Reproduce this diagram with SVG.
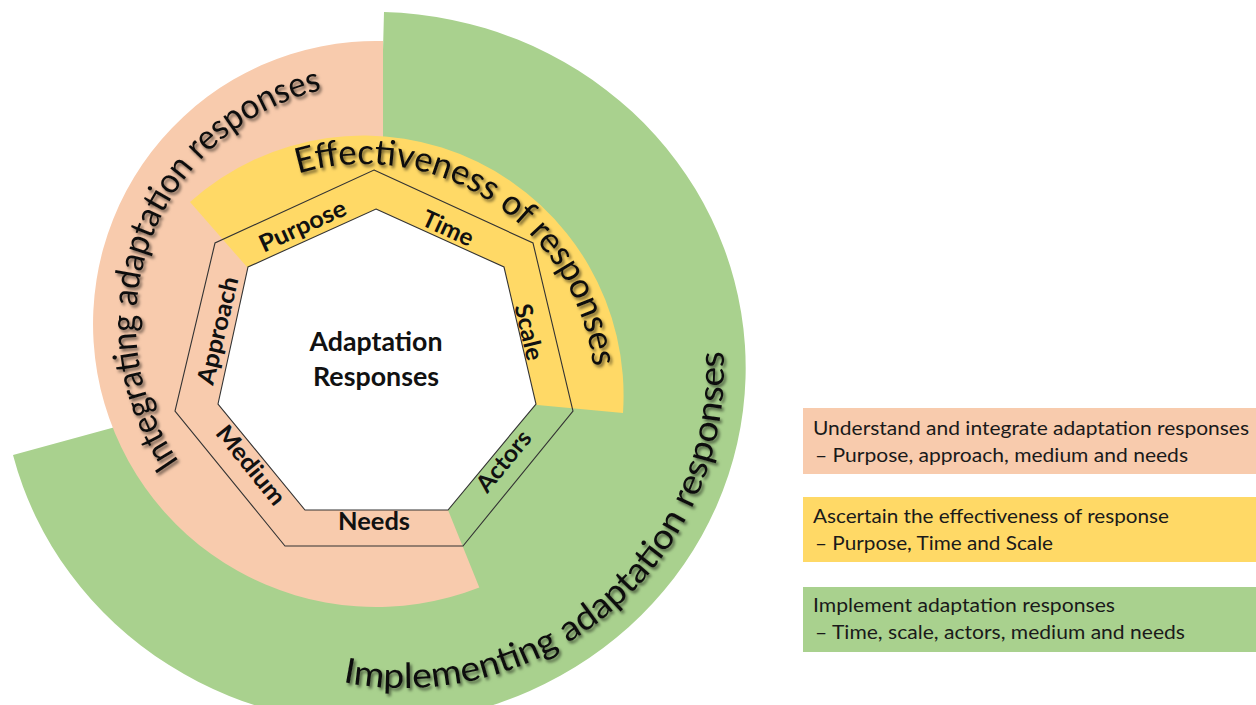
<svg xmlns="http://www.w3.org/2000/svg" width="1256" height="705" viewBox="0 0 1256 705">
<style>
.curved{font-family:Lato,"Open Sans","Liberation Sans",sans-serif;font-size:35px;fill:#111;filter:url(#sh)}
.seg{font-family:Lato,"Open Sans","Liberation Sans",sans-serif;font-weight:700;font-size:24px;fill:#111;text-anchor:middle}
.ctr{font-family:Lato,"Open Sans","Liberation Sans",sans-serif;font-weight:700;font-size:26px;fill:#111;text-anchor:middle}
.leg{font-family:Lato,"Open Sans","Liberation Sans",sans-serif;font-size:19.5px;fill:#1a1a1a}
.hept{stroke:#333;stroke-width:1.1;stroke-linejoin:miter}
</style>
<defs>
<filter id="sh" x="-10%" y="-10%" width="120%" height="130%">
<feDropShadow dx="2" dy="2.5" stdDeviation="1.8" flood-color="#000" flood-opacity="0.55"/>
</filter>
<path id="p1" d="M 192.1,478.3 A 240 240 0 0 1 355.1,84.9"/>
<path id="p2" d="M 266.4,185.6 A 231 231 0 0 1 595,395"/>
<path id="p3" d="M 294.6,668.7 A 320 320 0 0 0 719.1,312.4"/>
</defs>

<g id="ring-implementing">
<path d="M 384,12 A 372 356 0 1 1 13,455 L 375,356 Z" fill="#A9D18E"/>
</g>
<g id="ring-integrating">
<path d="M 383,41.1 A 283 283 0 1 0 479.3,587.5 L 448,510 L 410,420 L 383,300 Z" fill="#F8CBAD"/>
</g>
<g id="ring-effectiveness">
<path d="M 190,202 A 260 260 0 0 1 623,413 L 353,388 Z" fill="#FFD966"/>
</g>

<g id="heptagon">
<polygon class="hept" points="374,170 533,243 573,411 463,546 285,546 175,411 215,243" fill="none"/>
<polygon class="hept" points="376,209 504,267 536,404 448,510 305,510 218,404 248,267" fill="#fff"/>
</g>

<g id="curved-labels">
<text class="curved"><textPath href="#p1" startOffset="21" textLength="469" lengthAdjust="spacingAndGlyphs">Integrating adaptation responses</textPath></text>
<text class="curved"><textPath href="#p2" startOffset="34" textLength="401" lengthAdjust="spacingAndGlyphs">Effectiveness of responses</textPath></text>
<text class="curved"><textPath href="#p3" startOffset="50" textLength="581" lengthAdjust="spacingAndGlyphs">Implementing adaptation responses</textPath></text>
</g>

<g id="segments">
<g id="seg-purpose" transform="translate(303,227) rotate(-24.6)"><text class="seg" x="0" y="7" textLength="93" lengthAdjust="spacingAndGlyphs">Purpose</text></g>
<g id="seg-time" transform="translate(448,228) rotate(24.6)"><text class="seg" x="0" y="8.5" textLength="54" lengthAdjust="spacingAndGlyphs">Time</text></g>
<g id="seg-scale" transform="translate(529,332) rotate(76.6)"><text class="seg" x="0" y="8.5" textLength="57" lengthAdjust="spacingAndGlyphs">Scale</text></g>
<g id="seg-actors" transform="translate(503.5,461) rotate(-50.8)"><text class="seg" x="0" y="8.5" textLength="72" lengthAdjust="spacingAndGlyphs">Actors</text></g>
<g id="seg-needs"><text class="seg" x="374" y="530" textLength="72" lengthAdjust="spacingAndGlyphs">Needs</text></g>
<g id="seg-medium" transform="translate(251,465) rotate(50.8)"><text class="seg" x="0" y="8.5" textLength="95" lengthAdjust="spacingAndGlyphs">Medium</text></g>
<g id="seg-approach" transform="translate(219,331) rotate(-76.6)"><text class="seg" x="0" y="7" textLength="110" lengthAdjust="spacingAndGlyphs">Approach</text></g>
</g>

<g id="center-node">
<text class="ctr" x="376" y="351" textLength="133" lengthAdjust="spacingAndGlyphs">Adaptation</text>
<text class="ctr" x="376" y="386" textLength="126" lengthAdjust="spacingAndGlyphs">Responses</text>
</g>

<g id="legend-integrate">
<rect x="803" y="408" width="453" height="66" fill="#F8CBAD"/>
<text class="leg" x="813" y="435" textLength="436" lengthAdjust="spacingAndGlyphs">Understand and integrate adaptation responses</text>
<text class="leg" x="815" y="462" textLength="373" lengthAdjust="spacingAndGlyphs">– Purpose, approach, medium and needs</text>
</g>
<g id="legend-effectiveness">
<rect x="803" y="497" width="453" height="65" fill="#FFD966"/>
<text class="leg" x="813" y="523" textLength="356" lengthAdjust="spacingAndGlyphs">Ascertain the effectiveness of response</text>
<text class="leg" x="815" y="550" textLength="238" lengthAdjust="spacingAndGlyphs">– Purpose, Time and Scale</text>
</g>
<g id="legend-implement">
<rect x="803" y="587" width="453" height="65" fill="#A9D18E"/>
<text class="leg" x="813" y="612" textLength="302" lengthAdjust="spacingAndGlyphs">Implement adaptation responses</text>
<text class="leg" x="815" y="639" textLength="370" lengthAdjust="spacingAndGlyphs">– Time, scale, actors, medium and needs</text>
</g>
</svg>
